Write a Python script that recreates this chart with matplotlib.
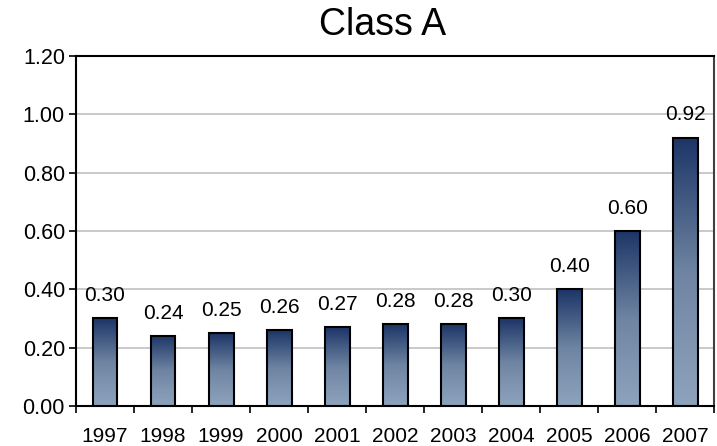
import numpy as np
import matplotlib
matplotlib.use("Agg")
import matplotlib.pyplot as plt
from matplotlib.colors import LinearSegmentedColormap
from matplotlib.patches import Rectangle

plt.rcParams["font.family"] = ["Liberation Sans", "DejaVu Sans"]

years = ["1997", "1998", "1999", "2000", "2001", "2002", "2003", "2004", "2005", "2006", "2007"]
values = [0.30, 0.24, 0.25, 0.26, 0.27, 0.28, 0.28, 0.30, 0.40, 0.60, 0.92]
yticks = [0.0, 0.2, 0.4, 0.6, 0.8, 1.0, 1.2]

fig = plt.figure(figsize=(7.17, 4.46), dpi=100)
ax = fig.add_axes([0.106, 0.0897, 0.89, 0.785])

# vertical gradient fill: dark navy at the top, grey-blue at the bottom
grad = LinearSegmentedColormap.from_list("bar", ["#8ea4bd", "#6e84a2", "#1c3566"])
g = np.linspace(0, 1, 256).reshape(-1, 1)
width = 0.43
x = np.arange(len(years))
for xi, v in zip(x, values):
    ax.imshow(g, cmap=grad, origin="lower", aspect="auto",
              extent=(xi - width / 2, xi + width / 2, 0, v), zorder=2)
    ax.add_patch(Rectangle((xi - width / 2, 0), width, v, fill=False,
                           edgecolor="black", linewidth=1.5, zorder=3))
    ax.text(xi, v + 0.045, f"{v:.2f}", ha="center", va="bottom", fontsize=15)

ax.set_xlim(-0.5, len(years) - 0.5)
ax.set_ylim(0, 1.2)
ax.set_yticks(yticks)
ax.set_yticklabels([f"{t:.2f}" for t in yticks], fontsize=15.5)
ax.set_xticks(x)
ax.set_xticklabels(years, fontsize=15)
ax.set_xticks(np.arange(len(years) + 1) - 0.5, minor=True)
ax.tick_params(axis="x", which="major", length=0, pad=15)
ax.tick_params(axis="x", which="minor", length=5, width=1.2, direction="out")
ax.tick_params(axis="y", length=5, width=1.2, direction="out", pad=3)
ax.yaxis.grid(True, color="#c0c0c0", linewidth=1.2, zorder=0)
ax.set_axisbelow(True)
for sp in ax.spines.values():
    sp.set_linewidth(1.5)
    sp.set_color("black")
ax.spines["right"].set_color("#404040")

fig.text(0.533, 1 - 35 / 446, "Class A", fontsize=27, ha="center", va="baseline")

fig.savefig("out.png", dpi=100)
